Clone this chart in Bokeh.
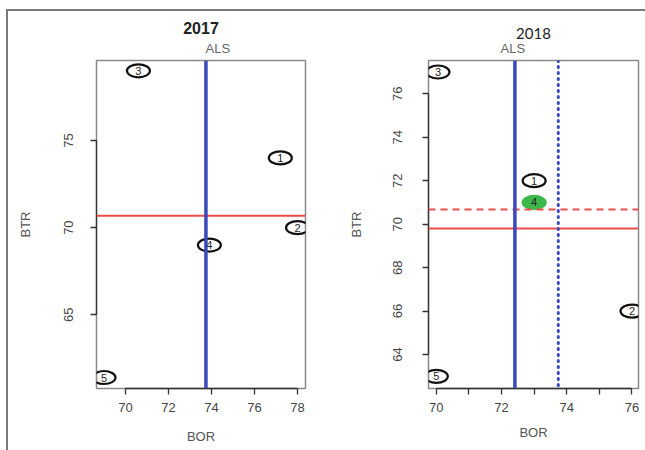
import numpy as np
from bokeh.plotting import figure
from bokeh.models import Span, Title, FixedTicker, Range1d, ColumnDataSource
from bokeh.layouts import row
from bokeh.core.properties import value
from bokeh.embed import file_html
from bokeh.resources import INLINE

# ---- data ----
ids = ["1", "2", "3", "4", "5"]
bor_2017 = [77.2, 78.0, 70.6, 73.9, 69.0]
btr_2017 = [74.0, 70.0, 79.0, 69.0, 61.4]
bor_2018 = [73.0, 76.0, 70.05, 73.0, 70.0]
btr_2018 = [72.0, 66.0, 77.0, 71.0, 63.0]
highlight_2018 = ["4"]

x_ticks_2017 = [70, 72, 74, 76, 78]
y_ticks_2017 = [65, 70, 75]
x_ticks_2018 = [70, 72, 74, 76]
x_minor_2018 = [71, 73, 75]
y_ticks_2018 = [64, 66, 68, 70, 72, 74, 76]

xr_2017 = (68.65, 78.37)
yr_2017 = (60.77, 79.59)
xr_2018 = (69.76, 76.2)
yr_2018 = (62.44, 77.53)

# averages (ALS = mean BOR, mean BTR)
als_2017 = float(np.mean(bor_2017))
avg_btr_2017 = float(np.mean(btr_2017))
als_2018 = float(np.mean(bor_2018))
avg_btr_2018 = float(np.mean(btr_2018))

FONT = "Liberation Sans"
BLUE = "#3a48b8"
RED = "#f04a4a"
TXT = "#444444"


def style_axes(p, xt, yt, xminor, xb, yb, y_label_standoff, y_axis_label_standoff, x_axis_label_standoff):
    p.xaxis.ticker = FixedTicker(ticks=xt, minor_ticks=xminor)
    p.yaxis.ticker = FixedTicker(ticks=yt, minor_ticks=[])
    p.xaxis.bounds = xb
    p.yaxis.bounds = yb
    for ax in (p.xaxis[0], p.yaxis[0]):
        ax.axis_line_color = "#333333"
        ax.axis_line_width = 1.3
        ax.major_tick_line_color = "#333333"
        ax.major_tick_line_width = 1.3
        ax.major_tick_out = 6
        ax.major_tick_in = 0
        ax.minor_tick_line_color = "#333333"
        ax.minor_tick_line_width = 1.3
        ax.minor_tick_out = 6
        ax.minor_tick_in = 0
        ax.major_label_text_font = FONT
        ax.major_label_text_font_size = "13px"
        ax.major_label_text_color = TXT
        ax.axis_label_text_font = FONT
        ax.axis_label_text_font_size = "13px"
        ax.axis_label_text_font_style = "normal"
        ax.axis_label_text_color = "#555555"
    p.xaxis.major_label_standoff = 8
    p.xaxis.axis_label_standoff = x_axis_label_standoff
    p.yaxis.major_label_orientation = "vertical"
    p.yaxis.major_label_standoff = y_label_standoff
    p.yaxis.axis_label_standoff = y_axis_label_standoff


def make_panel(bor, btr, xr, yr, width, mbl, mbr, highlight, title_text, title_font,
               title_style, title_size, title_offset, title_standoff):
    p = figure(width=width, height=439, output_backend="svg", toolbar_location=None,
               x_range=Range1d(*xr), y_range=Range1d(*yr),
               min_border_left=mbl, min_border_right=mbr,
               min_border_top=49, min_border_bottom=62,
               x_axis_label="BOR", y_axis_label="BTR")
    p.title.text = title_text
    p.title.align = "center"
    p.title.text_font = title_font
    p.title.text_font_style = title_style
    p.title.text_font_size = title_size
    p.title.text_color = "#222222"
    p.title.offset = title_offset
    p.title.standoff = title_standoff
    p.xgrid.visible = False
    p.ygrid.visible = False
    p.outline_line_color = "#8a8a8a"
    p.outline_line_width = 1.5
    p.background_fill_color = "white"
    p.border_fill_color = "white"

    hl = [i in highlight for i in ids]
    src = ColumnDataSource(dict(
        x=bor, y=btr, t=ids,
        fill=["#3cb84a" if h else None for h in hl],
        line=["#3cb84a" if h else "#111111" for h in hl],
    ))
    return p, src


def draw_points(p, src):
    p.ellipse(x="x", y="y", width=23, height=13, width_units="screen", height_units="screen",
              fill_color="fill", line_color="line", line_width=2.2, source=src)
    p.text(x="x", y="y", text="t", text_font=value(FONT), text_font_size="11px",
           text_align="center", text_baseline="middle", text_color="#222222", source=src)


def add_als(p, offset):
    t = Title(text="ALS", align="left", offset=offset, text_font=FONT,
              text_font_size="13px", text_font_style="normal", text_color="#666666")
    p.add_layout(t, "above")


# ---- 2017 ----
p1, s1 = make_panel(bor_2017, btr_2017, xr_2017, yr_2017, 312, 88, 15, [],
                    "2017", FONT, "bold", "16px", 4, -1)
style_axes(p1, x_ticks_2017, y_ticks_2017, [], (70, 78), (65, 75), 17, 29, 14)
p1.add_layout(Span(location=avg_btr_2017, dimension="width", line_color=RED, line_width=2))
p1.add_layout(Span(location=als_2017, dimension="height", line_color=BLUE, line_width=3.5))
draw_points(p1, s1)
add_als(p1, 109)

# ---- 2018 ----
p2, s2 = make_panel(bor_2018, btr_2018, xr_2018, yr_2018, 325, 108, 7, highlight_2018,
                    "2018", "Lato", "normal", "15px", 4, -11)
style_axes(p2, x_ticks_2018, y_ticks_2018, x_minor_2018, (70, 76), (64, 76), 20, 27, 10)
p2.add_layout(Span(location=avg_btr_2017, dimension="width", line_color=RED, line_width=2,
                   line_dash="7 5"))
p2.add_layout(Span(location=avg_btr_2018, dimension="width", line_color=RED, line_width=2))
p2.add_layout(Span(location=als_2018, dimension="height", line_color=BLUE, line_width=3.5))
p2.add_layout(Span(location=als_2017, dimension="height", line_color=BLUE, line_width=3,
                   line_dash="1 5", line_cap="round"))
draw_points(p2, s2)
add_als(p2, 72)

layout = row(p1, p2, styles={"border-top": "2px solid #7a7a7a",
                             "border-left": "2px solid #7a7a7a",
                             "margin-top": "9px", "margin-left": "6px"})

open("out.html", "w").write(file_html(layout, INLINE))
